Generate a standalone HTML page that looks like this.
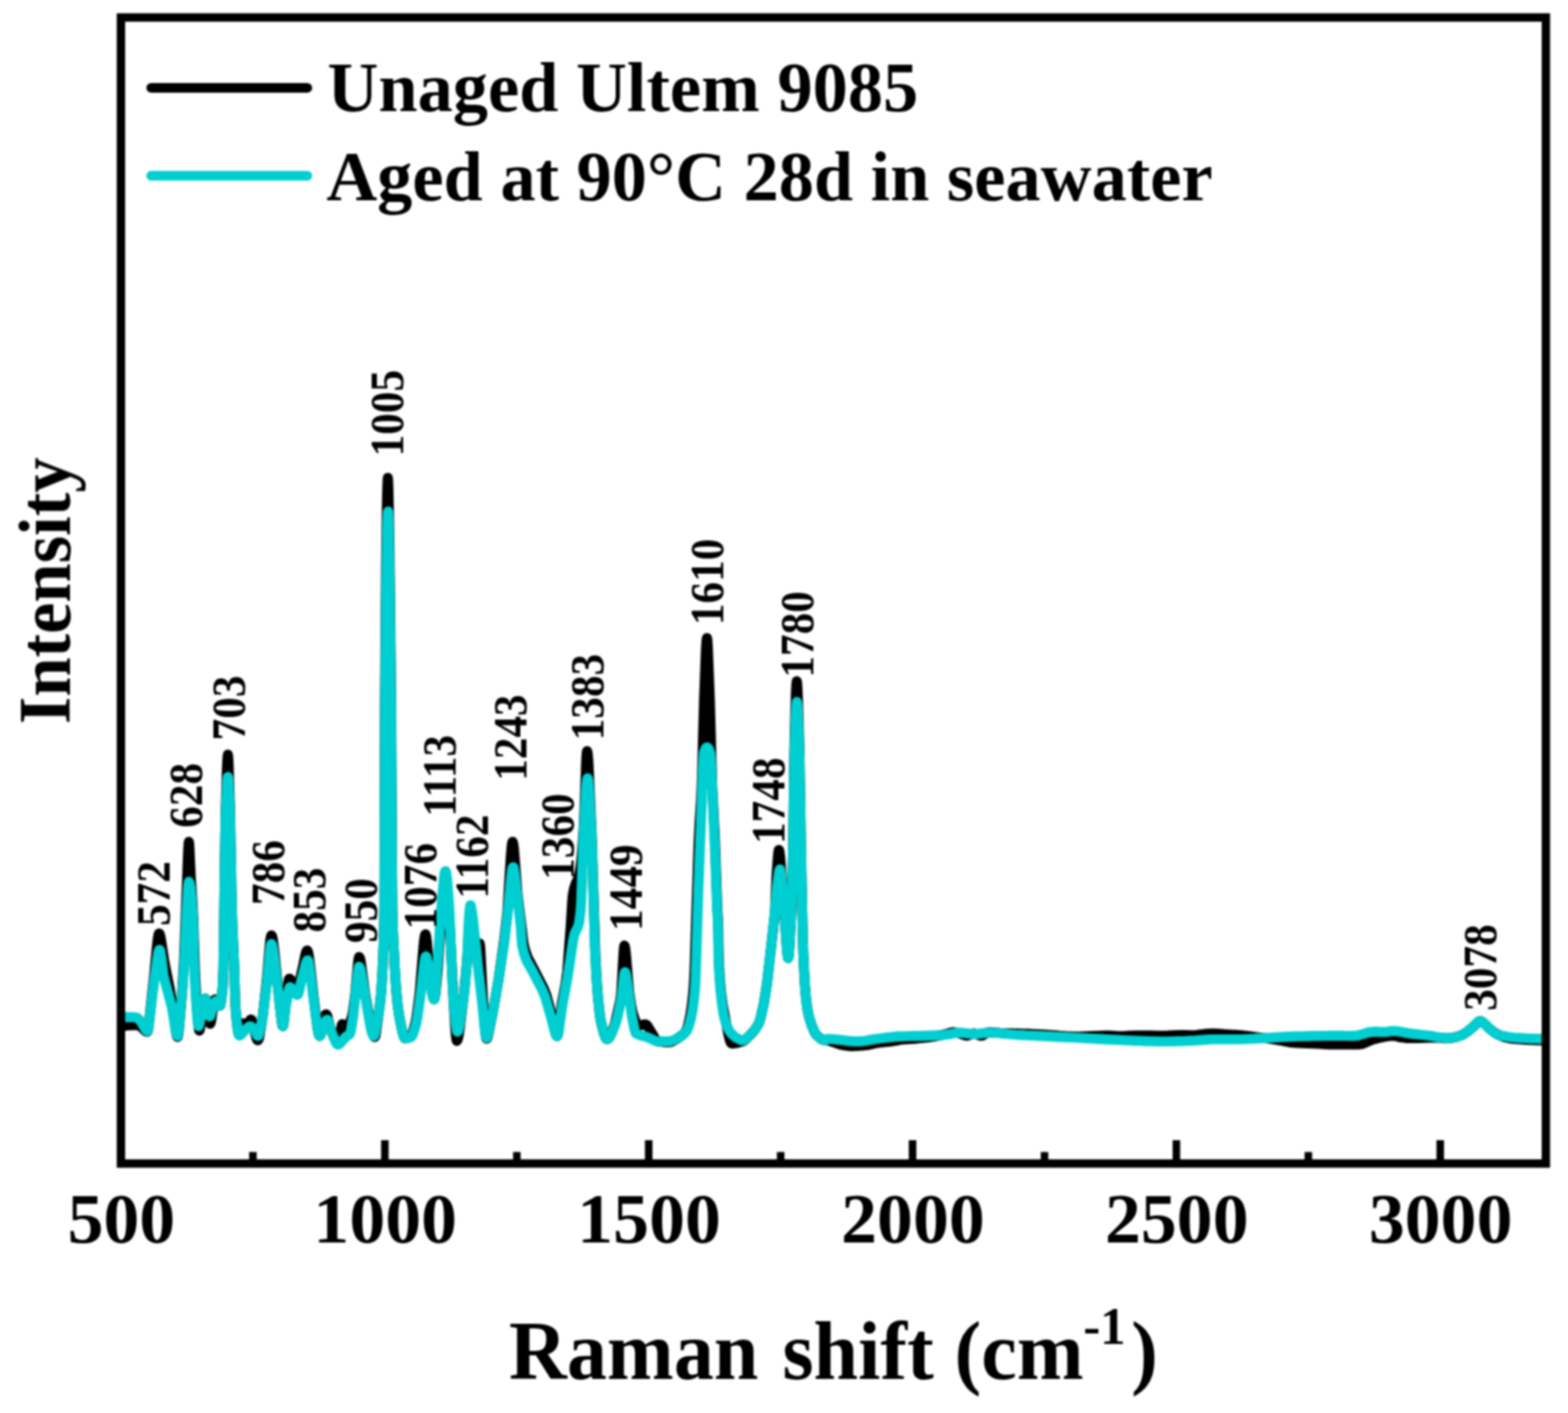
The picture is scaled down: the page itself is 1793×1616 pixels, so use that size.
<!DOCTYPE html>
<html lang="en">
<head>
<meta charset="utf-8">
<title>Raman spectra of Ultem 9085</title>
<style>
html,body{margin:0;padding:0;background:#fff;}
body{width:1793px;height:1616px;overflow:hidden;}
svg text{white-space:pre;}
</style>
</head>
<body>
<svg width="1793" height="1616" viewBox="0 0 1793 1616" style="display:block">
<rect x="0" y="0" width="1793" height="1616" fill="#fff"/>
<defs><filter id="soft" x="0" y="0" width="1793" height="1616" filterUnits="userSpaceOnUse" color-interpolation-filters="sRGB"><feGaussianBlur stdDeviation="0.8"/></filter></defs>
<g filter="url(#soft)">
<g fill="none" stroke-linejoin="round" stroke-linecap="butt">
<path d="M139.0 1174.0L145.0 1172.9L151.0 1172.5L157.0 1172.5L158.6 1172.6L159.8 1173.1L165.8 1178.8L167.4 1179.8L168.4 1180.0L168.6 1179.9L169.0 1178.9L169.4 1177.2L170.2 1171.7L176.2 1116.2L179.8 1078.3L180.6 1072.2L181.0 1070.0L181.4 1068.4L181.8 1067.6L182.0 1067.5L182.2 1067.6L182.6 1068.1L183.0 1069.2L183.8 1072.6L188.2 1101.0L194.2 1131.2L197.8 1152.9L201.0 1178.3L201.8 1183.0L202.2 1184.6L202.6 1185.6L203.0 1186.0L203.4 1185.4L203.8 1183.7L204.6 1177.6L208.2 1135.4L210.2 1102.7L215.0 975.9L215.4 968.0L215.8 963.3L216.0 962.7L216.2 963.4L216.6 968.6L218.2 1003.4L220.2 1033.5L221.0 1049.8L223.0 1111.6L224.6 1144.2L226.6 1170.3L227.0 1174.2L227.4 1177.0L227.8 1178.5L228.0 1178.7L228.2 1178.5L228.6 1177.3L229.4 1172.1L231.0 1158.2L233.4 1145.0L233.8 1143.5L234.2 1142.4L234.7 1141.9L235.0 1142.1L235.4 1143.1L236.2 1147.0L239.0 1166.9L239.4 1168.9L239.8 1170.2L240.2 1170.9L240.3 1170.9L240.6 1170.7L241.0 1169.7L241.8 1165.8L244.2 1148.7L245.0 1144.6L245.4 1143.4L245.8 1143.0L246.2 1143.1L247.0 1143.9L250.2 1149.4L251.0 1150.2L251.4 1150.3L251.8 1149.9L252.2 1148.7L253.0 1144.2L254.6 1128.8L255.0 1121.5L255.5 1106.8L257.4 962.4L258.2 920.6L259.4 880.8L259.8 871.4L260.2 865.2L260.6 863.0L261.0 865.6L261.4 872.8L263.0 924.3L265.0 1033.1L265.8 1059.5L267.9 1106.8L269.0 1147.4L269.8 1159.1L271.0 1171.5L271.8 1177.5L272.6 1181.6L273.0 1182.8L273.4 1183.5L273.7 1183.7L273.8 1183.7L274.2 1182.9L275.0 1179.1L276.2 1172.3L276.6 1170.8L277.0 1170.3L277.4 1170.4L278.2 1170.9L280.6 1173.3L281.5 1173.7L281.8 1173.6L282.2 1173.4L283.0 1172.3L285.8 1166.9L286.2 1166.3L286.6 1166.0L287.0 1165.9L287.4 1166.1L287.8 1166.6L288.6 1168.5L293.0 1186.6L293.8 1188.7L294.2 1189.4L294.6 1189.8L295.0 1189.7L295.4 1189.3L295.8 1188.4L296.6 1185.5L300.6 1161.0L305.0 1121.7L308.2 1082.9L309.0 1075.5L309.4 1072.8L309.8 1070.9L310.2 1069.8L310.4 1069.7L310.6 1069.8L311.0 1070.4L311.4 1071.6L312.2 1075.6L313.8 1088.3L319.8 1148.8L322.2 1169.0L322.6 1171.5L323.0 1173.1L323.4 1173.7L323.8 1173.0L324.2 1171.1L325.0 1164.6L326.6 1148.3L329.4 1124.7L329.8 1122.2L330.2 1120.3L330.6 1119.3L330.8 1119.2L331.4 1119.4L332.2 1120.1L333.8 1122.7L337.4 1130.1L338.2 1131.2L339.0 1131.9L339.5 1132.0L339.8 1131.9L340.2 1131.4L341.0 1129.5L346.6 1104.6L349.0 1092.5L349.8 1089.5L350.6 1087.6L351.0 1087.1L351.4 1087.0L351.8 1087.5L352.2 1088.6L353.0 1092.2L354.6 1104.1L358.6 1139.7L363.0 1175.4L363.8 1180.2L364.6 1183.4L365.0 1184.4L365.5 1184.8L365.8 1184.7L366.2 1184.2L367.0 1182.2L371.0 1164.1L371.8 1161.5L372.2 1160.6L372.6 1160.1L373.0 1160.0L373.4 1160.3L373.8 1160.9L374.6 1163.0L378.2 1177.7L383.0 1189.1L384.6 1191.7L385.4 1192.6L386.2 1193.0L386.6 1193.0L387.0 1192.4L387.4 1191.1L390.2 1174.9L390.6 1173.1L391.0 1171.8L391.4 1171.2L391.8 1171.3L392.2 1171.5L393.0 1172.5L395.0 1175.9L395.8 1176.8L396.4 1177.0L397.0 1176.7L397.8 1175.5L401.0 1167.3L402.6 1161.7L403.4 1158.0L406.2 1137.3L409.0 1104.6L409.8 1097.7L410.2 1095.5L410.6 1094.5L410.7 1094.5L411.0 1094.7L411.4 1095.3L411.8 1096.5L412.6 1100.1L417.4 1135.5L423.4 1169.9L425.4 1179.2L426.6 1183.2L427.4 1185.0L427.8 1185.5L428.2 1185.9L428.6 1186.0L429.0 1185.5L429.4 1184.0L430.2 1179.1L434.6 1147.4L435.8 1135.6L437.0 1117.9L438.6 1081.8L439.0 1068.9L439.5 1040.0L440.2 797.0L441.4 651.4L442.2 587.5L442.6 566.3L443.0 552.6L443.4 546.7L443.5 546.4L443.8 548.8L444.2 559.0L444.6 576.4L445.4 628.7L447.2 797.0L448.2 977.6L448.7 1040.0L449.4 1065.8L451.8 1114.1L453.0 1132.0L454.6 1148.6L456.2 1160.5L459.8 1178.6L461.4 1184.5L462.2 1186.4L462.6 1187.1L463.0 1187.5L463.4 1187.6L466.6 1187.0L469.0 1186.0L469.8 1185.3L470.6 1184.0L472.2 1180.0L475.0 1170.0L476.2 1163.9L479.8 1136.4L484.2 1082.2L485.0 1074.8L485.4 1072.0L485.8 1070.0L486.2 1068.8L486.5 1068.5L486.6 1068.5L487.0 1069.4L487.4 1071.3L488.2 1077.5L491.8 1119.6L494.2 1135.3L495.0 1139.3L495.4 1140.8L495.8 1141.8L496.2 1142.4L496.4 1142.5L496.6 1142.4L497.0 1141.4L497.4 1139.6L498.2 1133.8L500.6 1108.9L503.8 1058.4L506.6 1029.8L507.8 1020.7L508.6 1016.7L509.0 1015.5L509.5 1015.0L509.8 1015.3L510.2 1016.3L510.6 1018.2L511.4 1023.8L513.8 1050.0L514.6 1063.6L518.6 1143.8L520.6 1176.3L521.4 1185.6L521.8 1188.6L522.2 1190.2L522.4 1190.4L522.6 1190.3L523.0 1189.8L523.4 1188.9L524.2 1185.8L525.8 1175.8L531.0 1132.9L534.2 1097.2L535.8 1069.5L536.2 1065.0L537.0 1058.8L537.4 1056.5L537.8 1055.2L538.0 1055.0L538.2 1055.1L538.6 1055.7L539.4 1058.2L541.8 1068.7L543.8 1079.3L544.2 1080.7L544.6 1081.7L545.0 1082.0L545.4 1081.9L546.2 1081.2L547.8 1079.3L548.2 1079.1L548.5 1079.0L548.6 1079.1L549.0 1081.5L549.4 1086.5L552.2 1141.8L554.6 1176.0L555.4 1183.9L555.8 1186.5L556.2 1187.8L556.4 1188.0L556.6 1187.9L557.0 1187.5L557.4 1186.8L558.2 1184.2L564.2 1154.1L570.2 1119.4L576.5 1075.0L580.2 1042.8L584.2 977.5L585.0 968.1L585.4 965.0L585.8 963.1L586.1 962.7L586.2 962.7L586.6 963.6L587.0 965.4L587.8 971.6L591.8 1023.0L597.0 1064.4L598.2 1075.8L598.6 1078.8L600.6 1087.0L603.4 1094.9L609.4 1106.1L615.4 1117.9L621.4 1129.5L624.6 1137.3L631.0 1161.0L635.0 1180.5L635.8 1183.2L636.2 1184.2L636.6 1184.8L637.0 1185.0L637.4 1184.5L637.8 1183.3L638.6 1178.7L642.2 1148.8L647.0 1123.5L648.6 1111.7L652.6 1058.6L654.2 1031.9L654.6 1026.6L655.0 1023.0L656.2 1016.8L658.2 1010.5L660.6 1006.0L661.4 1003.7L662.6 998.6L664.2 988.5L665.4 976.3L667.4 947.3L668.2 928.8L670.2 872.2L670.6 864.7L671.0 860.1L671.3 859.0L671.4 859.1L671.8 860.4L672.2 863.3L673.0 873.4L676.6 954.0L680.7 1089.5L682.2 1119.5L683.8 1141.2L685.8 1159.8L687.0 1167.6L690.2 1180.7L691.8 1185.4L692.6 1187.1L693.4 1188.1L693.8 1188.4L694.2 1188.5L695.0 1188.3L695.8 1187.7L697.0 1186.1L699.4 1181.1L703.4 1170.2L709.0 1145.2L710.0 1139.0L710.6 1132.2L713.0 1089.1L713.4 1084.4L713.8 1081.8L714.0 1081.5L714.2 1081.6L714.6 1082.8L715.0 1084.8L715.8 1091.4L719.4 1134.2L721.8 1150.1L723.4 1157.9L726.6 1167.8L727.8 1170.7L728.6 1172.0L729.4 1172.8L730.2 1173.0L736.6 1171.6L738.2 1171.5L739.0 1171.9L740.2 1173.1L746.2 1182.8L749.8 1188.9L751.0 1190.3L751.8 1190.8L757.8 1191.7L764.2 1192.0L767.4 1191.6L773.8 1188.2L780.2 1183.8L783.0 1181.1L784.6 1178.8L785.4 1177.1L787.0 1171.8L789.4 1160.7L791.0 1150.4L792.6 1135.8L793.4 1125.0L794.2 1109.0L798.6 968.9L799.8 943.3L801.8 911.0L802.6 892.6L805.1 799.0L807.0 747.3L807.4 739.2L807.8 733.2L808.2 730.0L808.4 729.6L808.6 730.0L809.0 733.2L809.4 739.2L811.8 801.8L814.4 898.0L817.5 959.0L820.3 1040.0L821.0 1051.1L821.4 1062.6L821.8 1089.5L822.2 1102.1L823.0 1117.4L824.2 1131.9L826.2 1148.0L832.6 1182.0L834.2 1188.6L835.0 1191.0L835.8 1192.7L836.2 1193.2L836.8 1193.5L843.0 1192.8L849.0 1191.1L851.4 1189.9L857.4 1184.2L863.4 1177.4L866.6 1172.4L868.2 1169.1L869.8 1164.0L873.4 1147.9L877.0 1125.1L883.0 1072.1L885.4 1050.7L886.3 1040.0L888.0 1000.0L889.4 980.3L889.8 976.2L890.2 973.3L890.6 972.0L890.7 971.9L891.0 972.3L891.4 974.1L892.2 980.8L898.6 1068.2L899.8 1085.5L900.6 1093.5L901.0 1095.4L901.2 1095.7L901.4 1095.4L901.8 1093.5L902.2 1089.9L903.0 1078.8L904.6 1047.9L905.4 1027.6L906.6 983.1L907.1 959.0L908.3 860.0L909.4 813.8L910.2 789.7L910.6 782.5L911.0 779.1L911.1 779.0L911.4 780.1L911.8 784.7L912.6 802.8L914.2 860.0L916.2 986.5L918.2 1079.7L919.0 1101.9L920.6 1129.3L921.8 1143.3L923.0 1152.6L925.0 1162.6L928.2 1172.7L931.4 1180.2L933.4 1183.5L938.2 1187.7L941.4 1189.4L947.8 1190.2L954.2 1192.4L960.6 1194.6L967.0 1195.8L973.4 1196.5L979.8 1196.4L986.2 1195.9L992.6 1195.1L999.0 1193.7L1005.3 1192.5L1011.4 1191.9L1017.4 1191.3L1023.4 1190.4L1029.8 1189.1L1036.2 1188.5L1042.6 1188.2L1049.0 1187.7L1055.4 1187.0L1061.8 1186.3L1068.2 1185.4L1074.6 1184.2L1081.0 1182.9L1087.4 1180.9L1090.6 1180.5L1097.0 1181.9L1103.4 1184.1L1106.2 1184.5L1112.2 1182.3L1114.2 1182.0L1120.6 1184.3L1122.2 1184.5L1123.8 1184.1L1129.0 1180.9L1131.0 1180.5L1137.4 1180.9L1143.8 1181.4L1150.2 1181.7L1156.6 1181.8L1163.0 1182.0L1169.4 1182.1L1175.8 1182.3L1182.2 1182.6L1188.6 1182.9L1195.0 1183.3L1201.4 1183.7L1207.8 1184.2L1214.2 1184.8L1220.6 1185.2L1227.0 1185.5L1233.4 1185.5L1239.8 1185.2L1246.2 1185.0L1252.6 1184.7L1259.0 1184.4L1265.4 1184.2L1271.8 1184.5L1278.2 1185.0L1284.6 1184.9L1291.0 1184.5L1297.4 1184.2L1303.8 1184.2L1310.2 1184.3L1316.6 1184.3L1323.0 1184.4L1329.4 1184.4L1335.8 1184.3L1342.2 1183.9L1348.6 1183.6L1355.0 1183.7L1361.4 1183.9L1367.8 1183.7L1374.2 1183.0L1380.6 1182.2L1387.0 1181.9L1393.4 1182.3L1399.8 1182.8L1406.2 1183.1L1412.6 1183.4L1419.0 1183.9L1425.4 1184.7L1431.8 1185.5L1438.2 1186.3L1444.6 1187.1L1451.0 1187.9L1457.4 1188.8L1463.8 1190.0L1470.2 1191.2L1476.6 1192.3L1483.0 1192.8L1489.4 1193.1L1495.8 1193.3L1502.2 1193.5L1508.6 1193.7L1515.0 1194.2L1521.4 1194.5L1527.8 1194.6L1534.2 1194.6L1540.6 1194.6L1547.0 1194.6L1553.4 1194.6L1557.8 1193.9L1564.2 1191.2L1570.3 1188.8L1576.6 1187.2L1582.6 1185.9L1589.0 1184.9L1595.0 1184.8L1601.4 1186.4L1607.8 1187.2L1614.2 1187.2L1620.6 1187.2L1627.0 1187.1L1633.4 1186.7L1639.8 1186.5L1646.2 1186.9L1652.6 1187.5L1659.0 1187.3L1665.4 1185.9L1671.6 1183.9L1677.8 1180.0L1683.8 1175.1L1689.8 1169.2L1691.4 1168.2L1693.0 1167.9L1694.2 1168.2L1696.2 1169.5L1702.6 1175.8L1708.6 1180.7L1714.6 1184.0L1721.0 1186.4L1727.4 1187.8L1733.8 1188.4L1740.2 1188.9L1746.6 1189.3L1753.0 1189.5L1759.4 1189.7L1764.0 1189.7" stroke="#000" stroke-width="11.4"/>
<path d="M139.0 1163.1L145.0 1163.2L151.0 1163.3L155.8 1163.6L157.0 1164.1L161.4 1168.5L166.2 1177.3L167.0 1178.4L167.8 1179.0L168.4 1179.2L168.6 1179.1L169.0 1178.3L169.4 1176.9L170.2 1172.4L176.2 1122.5L180.2 1093.5L181.0 1089.4L181.4 1087.9L181.8 1086.8L182.2 1086.3L182.4 1086.2L182.6 1086.3L183.0 1087.2L183.4 1088.7L184.2 1093.6L186.6 1113.1L187.4 1118.0L193.4 1140.2L196.6 1152.4L201.0 1179.4L201.8 1182.7L202.2 1183.8L202.6 1184.5L203.0 1184.8L203.4 1184.2L203.8 1182.5L204.6 1176.5L209.0 1127.1L210.6 1103.3L213.4 1041.6L215.0 1015.4L215.4 1011.2L215.8 1008.8L216.0 1008.5L216.2 1008.6L216.6 1009.3L217.0 1010.6L217.8 1015.0L219.0 1025.8L220.6 1046.8L221.0 1058.9L221.8 1093.3L222.2 1106.8L223.4 1132.8L225.4 1162.1L226.2 1170.7L226.6 1173.1L226.9 1173.7L227.4 1173.1L227.8 1172.0L229.0 1166.1L230.6 1156.8L233.4 1144.4L233.8 1143.2L234.2 1142.3L234.7 1141.9L235.0 1142.1L235.4 1143.0L236.2 1146.3L238.2 1158.1L239.0 1161.4L239.4 1162.3L239.8 1162.5L240.2 1162.1L240.6 1161.4L241.8 1157.6L243.4 1151.6L245.8 1145.9L246.2 1145.3L246.6 1144.9L247.0 1144.7L247.4 1144.8L248.2 1145.7L250.2 1149.3L251.0 1150.2L251.4 1150.3L251.8 1149.9L252.2 1148.7L253.0 1144.2L254.6 1128.8L255.0 1121.5L255.5 1106.8L257.4 967.1L257.8 943.8L258.3 924.3L259.4 900.0L259.8 893.8L260.2 889.8L260.6 888.4L261.0 890.1L261.4 894.7L262.8 924.3L263.4 946.7L265.0 1033.6L265.8 1059.2L267.9 1106.8L269.0 1147.3L269.8 1159.1L271.0 1171.8L271.8 1177.9L272.6 1182.1L273.0 1183.3L273.4 1184.0L273.8 1184.2L274.6 1184.0L275.8 1183.2L281.8 1176.7L284.2 1174.4L285.4 1173.8L286.2 1173.7L287.4 1174.2L290.6 1177.2L291.8 1179.5L293.4 1183.2L294.2 1184.5L294.6 1184.8L295.0 1184.8L295.4 1184.4L295.8 1183.7L296.6 1181.4L300.2 1163.9L305.4 1122.1L308.6 1088.2L309.4 1082.5L309.8 1080.7L310.2 1079.7L310.4 1079.6L310.6 1079.7L311.0 1080.3L311.4 1081.4L312.2 1085.0L313.8 1096.5L319.8 1149.4L322.2 1168.9L322.6 1171.4L323.0 1173.1L323.4 1173.7L323.8 1173.1L324.2 1171.5L326.6 1152.5L329.8 1133.6L330.6 1130.5L331.0 1129.5L331.5 1129.1L332.2 1129.3L333.0 1129.8L338.2 1136.7L339.0 1137.4L339.8 1137.8L340.2 1137.8L340.6 1137.4L341.0 1136.7L341.8 1134.2L344.6 1121.5L349.4 1102.8L350.2 1100.4L351.0 1098.9L351.4 1098.4L351.9 1098.2L352.2 1098.4L352.6 1099.2L353.0 1100.6L353.8 1104.8L359.8 1151.6L362.6 1173.6L363.8 1180.6L364.6 1183.5L365.0 1184.4L365.5 1184.8L365.8 1184.7L366.2 1184.1L367.0 1182.1L369.4 1173.5L372.2 1168.0L373.0 1166.9L373.8 1166.3L374.2 1166.2L374.6 1166.4L375.0 1167.0L375.8 1168.9L378.6 1178.9L383.4 1191.0L384.6 1193.2L385.4 1194.2L386.2 1194.7L387.0 1194.6L388.2 1194.1L394.2 1187.0L395.8 1185.5L398.6 1183.9L400.2 1182.1L400.6 1181.2L401.4 1178.0L403.8 1162.8L409.0 1113.3L409.8 1108.0L410.2 1106.4L410.6 1105.6L411.0 1105.7L411.4 1106.3L412.2 1108.5L413.4 1114.1L419.4 1149.3L423.8 1175.0L425.0 1180.1L425.8 1182.6L426.6 1184.2L427.0 1184.7L427.4 1184.8L427.8 1184.6L428.2 1183.8L429.0 1181.3L433.4 1156.6L435.0 1144.0L436.2 1130.5L437.4 1110.3L438.6 1081.5L439.0 1068.1L439.5 1040.0L439.8 975.0L440.4 797.0L441.4 693.3L442.2 632.9L442.6 611.2L443.0 595.8L443.4 587.0L443.7 585.0L443.8 585.3L444.2 592.2L444.6 607.2L445.4 656.6L447.0 797.0L448.2 987.3L448.7 1040.0L449.4 1065.3L451.8 1114.1L453.0 1132.0L454.6 1148.6L456.2 1160.5L459.8 1178.6L461.4 1184.5L462.2 1186.4L462.6 1187.1L463.0 1187.5L463.4 1187.6L467.8 1186.9L470.2 1185.9L471.0 1185.0L472.2 1182.7L475.0 1173.8L476.2 1169.2L477.4 1162.7L481.4 1133.7L485.0 1102.1L485.8 1097.2L486.2 1095.5L486.6 1094.3L487.1 1093.8L487.4 1094.1L487.8 1095.1L488.6 1099.2L491.4 1121.4L494.6 1138.8L495.4 1141.8L495.8 1142.7L496.2 1143.2L496.4 1143.3L496.6 1143.1L497.0 1141.7L497.4 1139.1L498.2 1131.1L501.8 1081.0L504.2 1043.6L507.4 1006.6L508.2 1000.2L508.6 998.0L509.0 996.6L509.4 996.1L509.8 996.6L510.2 998.1L511.0 1003.7L512.6 1022.5L513.8 1040.0L514.6 1057.5L517.4 1124.3L519.8 1157.6L521.0 1170.1L521.8 1176.1L522.2 1178.2L522.6 1179.5L523.0 1179.9L523.4 1179.7L523.8 1179.1L524.6 1176.8L525.8 1171.1L530.2 1141.3L532.2 1122.8L534.2 1096.6L535.8 1056.8L536.2 1050.0L537.0 1040.4L537.4 1036.9L537.8 1035.2L537.9 1035.1L538.2 1035.4L538.6 1036.7L540.6 1049.1L546.6 1106.4L551.4 1147.4L554.2 1176.2L555.0 1182.2L555.4 1184.4L555.8 1186.0L556.2 1186.8L556.4 1186.9L556.6 1186.8L557.0 1186.5L557.4 1185.7L558.2 1183.4L564.2 1154.1L570.2 1119.2L576.6 1078.0L581.0 1040.4L584.6 1002.5L585.4 996.5L585.8 994.3L586.2 992.7L586.6 991.9L586.8 991.8L587.0 991.9L587.4 992.7L587.8 994.3L588.6 999.1L594.6 1051.0L595.5 1060.0L596.6 1077.1L597.0 1081.0L599.4 1091.2L601.8 1098.2L607.8 1108.7L613.8 1120.2L620.2 1132.4L623.4 1140.1L629.8 1162.3L634.6 1180.8L635.4 1183.0L636.2 1184.5L636.6 1184.9L637.0 1185.0L637.4 1184.7L637.8 1183.8L638.6 1180.6L643.0 1150.0L649.0 1117.7L655.4 1075.1L656.6 1069.4L657.4 1066.8L660.6 1060.6L661.5 1058.0L662.2 1054.8L663.0 1049.4L664.0 1040.0L664.6 1029.9L667.0 960.0L669.8 908.1L670.6 897.6L671.0 893.8L671.4 891.2L671.8 890.1L671.9 890.0L672.2 890.4L672.6 892.3L673.0 895.4L673.8 905.1L676.2 949.0L677.0 969.8L680.2 1081.6L681.4 1107.8L683.0 1132.1L685.4 1156.4L686.6 1165.2L689.8 1179.3L691.4 1184.4L692.6 1187.1L693.4 1188.1L693.8 1188.4L694.2 1188.5L695.0 1188.3L695.8 1187.8L697.0 1186.4L699.4 1182.1L703.8 1171.2L706.2 1162.7L709.8 1146.0L711.0 1139.0L713.4 1117.2L713.8 1114.4L714.2 1112.5L714.6 1111.8L715.0 1112.1L715.4 1113.0L716.2 1116.4L720.6 1147.2L722.6 1162.7L725.4 1176.6L726.2 1179.5L727.0 1181.6L727.6 1182.3L733.0 1184.4L739.0 1185.7L745.0 1188.4L749.8 1190.6L755.8 1191.0L762.2 1191.0L767.0 1190.7L773.0 1188.3L779.0 1184.9L782.6 1182.0L785.5 1178.5L786.6 1176.4L788.2 1171.9L790.6 1162.5L792.2 1153.7L794.2 1136.9L795.0 1125.8L795.6 1114.0L798.6 1017.5L803.8 878.9L804.6 864.8L805.0 860.9L805.4 859.4L806.6 856.5L807.4 855.3L807.8 854.9L808.2 854.7L808.6 854.6L809.0 854.8L809.8 855.6L811.0 857.9L811.8 860.0L812.2 862.0L812.6 865.6L813.4 876.8L817.4 968.8L820.0 1040.0L820.6 1049.4L821.0 1058.0L821.5 1089.5L822.2 1108.8L823.4 1127.5L825.4 1146.7L827.0 1157.9L828.2 1163.8L831.0 1173.0L833.0 1177.6L835.8 1181.6L840.6 1185.9L846.6 1189.2L848.6 1189.8L850.2 1189.7L852.2 1188.8L858.2 1183.2L863.4 1177.5L866.6 1172.4L868.2 1169.1L869.8 1164.0L873.4 1147.9L877.0 1125.1L883.0 1072.1L886.6 1036.7L888.6 1013.4L890.6 998.5L891.0 996.4L891.4 994.9L891.8 994.2L891.9 994.2L892.2 994.6L892.6 996.3L893.4 1002.6L895.8 1029.5L899.8 1085.4L900.6 1093.5L901.0 1095.4L901.2 1095.7L901.4 1095.4L901.8 1093.5L902.2 1089.9L903.0 1078.8L904.6 1047.9L905.4 1026.9L906.6 982.0L907.1 959.0L908.2 875.7L908.6 856.6L909.8 820.8L910.2 812.4L910.6 806.3L911.0 803.1L911.2 802.7L911.4 803.1L911.8 806.3L912.2 812.2L913.0 830.3L914.2 867.6L917.4 1044.6L918.2 1079.7L919.0 1101.9L920.6 1129.3L921.8 1143.3L923.0 1152.6L925.0 1162.6L928.2 1172.7L931.4 1180.2L933.4 1183.5L938.6 1188.1L941.4 1189.5L943.4 1189.8L944.2 1189.5L946.2 1188.3L952.2 1188.4L958.2 1189.0L964.2 1189.7L970.2 1190.5L976.6 1191.0L983.0 1191.0L989.4 1190.3L995.8 1189.2L1002.2 1188.1L1008.6 1187.3L1015.0 1186.5L1021.4 1185.8L1027.8 1185.3L1034.2 1185.1L1040.6 1184.9L1047.0 1184.8L1053.4 1184.7L1059.8 1184.5L1066.2 1184.3L1072.6 1184.0L1079.0 1183.6L1085.4 1182.8L1091.8 1181.5L1098.2 1181.0L1104.6 1181.7L1111.0 1182.6L1117.4 1182.5L1123.8 1181.6L1130.2 1181.0L1136.6 1181.1L1143.0 1181.6L1149.4 1182.2L1155.8 1182.8L1162.2 1183.4L1168.6 1183.8L1175.0 1184.1L1181.4 1184.4L1187.8 1184.7L1194.2 1185.0L1200.6 1185.3L1207.0 1185.7L1213.4 1186.0L1219.8 1186.3L1226.2 1186.6L1232.6 1186.9L1239.0 1187.3L1245.4 1187.6L1251.8 1188.0L1258.2 1188.3L1264.6 1188.7L1271.0 1189.0L1277.4 1189.3L1283.8 1189.6L1290.2 1189.9L1296.6 1190.2L1303.0 1190.4L1309.4 1190.7L1315.8 1190.9L1322.2 1191.0L1328.6 1191.1L1335.0 1191.1L1341.4 1191.0L1347.8 1190.8L1354.2 1190.6L1360.6 1190.3L1367.0 1190.0L1373.4 1189.5L1379.8 1189.0L1386.2 1188.6L1392.6 1188.6L1399.0 1188.6L1405.4 1188.6L1411.8 1188.6L1418.2 1188.6L1424.6 1188.4L1431.0 1188.1L1437.4 1187.8L1443.8 1187.4L1450.2 1187.0L1456.6 1186.5L1463.0 1186.1L1469.4 1185.8L1475.8 1185.5L1482.2 1185.3L1488.6 1185.1L1495.0 1185.0L1501.4 1184.8L1507.8 1184.7L1514.2 1184.6L1520.6 1184.5L1527.0 1184.5L1533.4 1184.5L1539.8 1184.6L1546.2 1184.7L1552.6 1184.3L1559.0 1182.5L1565.4 1180.5L1571.8 1179.8L1578.2 1180.3L1584.6 1180.3L1591.0 1179.2L1597.4 1179.3L1603.8 1180.3L1610.2 1181.6L1616.6 1182.5L1623.0 1183.2L1629.4 1183.8L1635.8 1184.6L1642.2 1185.8L1648.6 1186.7L1655.0 1187.2L1661.4 1186.6L1667.8 1185.1L1673.4 1183.1L1679.8 1178.4L1686.2 1172.7L1689.8 1169.2L1691.4 1168.2L1693.0 1167.9L1694.2 1168.2L1696.2 1169.5L1702.6 1175.8L1708.6 1180.9L1711.8 1182.9L1718.2 1184.7L1724.6 1185.9L1731.0 1186.6L1737.4 1187.0L1743.8 1187.4L1750.2 1187.7L1756.6 1187.9L1763.0 1188.0L1764.0 1188.0" stroke="#00CED0" stroke-width="11.4"/>
</g>
<rect x="138.3" y="20.0" width="1629.4" height="1310.7" fill="none" stroke="#000" stroke-width="9.6"/>
<g fill="#000"><rect x="435.8" y="1304" width="8.6" height="24" /><rect x="737.5" y="1304" width="8.6" height="24" /><rect x="1039.2" y="1304" width="8.6" height="24" /><rect x="1340.9" y="1304" width="8.6" height="24" /><rect x="1642.6" y="1304" width="8.6" height="24" /><rect x="284.9" y="1317.5" width="8.6" height="10" /><rect x="586.7" y="1317.5" width="8.6" height="10" /><rect x="888.4" y="1317.5" width="8.6" height="10" /><rect x="1190.1" y="1317.5" width="8.6" height="10" /><rect x="1491.8" y="1317.5" width="8.6" height="10" /></g>
<g font-family="'Liberation Serif', 'Times New Roman', serif" font-weight="bold" fill="#000">
<text transform="translate(138.8 1421.1) scale(1.0095 1.0)" font-size="81.4" text-anchor="middle">500</text>
<text transform="translate(440.5 1421.1) scale(1.0095 1.0)" font-size="81.4" text-anchor="middle">1000</text>
<text transform="translate(742.2 1421.1) scale(1.0095 1.0)" font-size="81.4" text-anchor="middle">1500</text>
<text transform="translate(1043.9 1421.1) scale(1.0095 1.0)" font-size="81.4" text-anchor="middle">2000</text>
<text transform="translate(1345.6 1421.1) scale(1.0095 1.0)" font-size="81.4" text-anchor="middle">2500</text>
<text transform="translate(1647.3 1421.1) scale(1.0095 1.0)" font-size="81.4" text-anchor="middle">3000</text>
<text transform="translate(582 1576.7) scale(0.955 1.0)" font-size="96">Raman<tspan dx="4.7"> shift</tspan><tspan dx="0.8"> (cm</tspan><tspan x="687.6" y="-39.8" font-size="61">-1</tspan><tspan x="745.0" y="0">)</tspan></text>
<text transform="translate(80 828.2) rotate(-90) scale(0.95 1.0)" font-size="85">Intensity</text>
<text transform="translate(374.6 126.7) scale(1.0066 1.0)" font-size="80">Unaged Ultem 9085</text>
<text transform="translate(373.2 228.5) scale(1.006 1.0)" font-size="80">Aged at 90°C 28d in seawater</text>
<text transform="translate(193.5 1059) rotate(-90) scale(0.908 1.0)" font-size="54.5">572</text>
<text transform="translate(230.6 946.8) rotate(-90) scale(0.908 1.0)" font-size="54.5">628</text>
<text transform="translate(280.3 846.8) rotate(-90) scale(0.908 1.0)" font-size="54.5">703</text>
<text transform="translate(325.2 1035) rotate(-90) scale(0.908 1.0)" font-size="54.5">786</text>
<text transform="translate(371.6 1066.5) rotate(-90) scale(0.908 1.0)" font-size="54.5">853</text>
<text transform="translate(431 1078.6) rotate(-90) scale(0.908 1.0)" font-size="54.5">950</text>
<text transform="translate(460.8 522) rotate(-90) scale(0.908 1.0)" font-size="54.5">1005</text>
<text transform="translate(499 1063) rotate(-90) scale(0.908 1.0)" font-size="54.5">1076</text>
<text transform="translate(521.3 934) rotate(-90) scale(0.908 1.0)" font-size="54.5">1113</text>
<text transform="translate(558.4 1027.7) rotate(-90) scale(0.908 1.0)" font-size="54.5">1162</text>
<text transform="translate(602 893.1) rotate(-90) scale(0.908 1.0)" font-size="54.5">1243</text>
<text transform="translate(655.9 1006.3) rotate(-90) scale(0.908 1.0)" font-size="54.5">1360</text>
<text transform="translate(690.2 846.7) rotate(-90) scale(0.908 1.0)" font-size="54.5">1383</text>
<text transform="translate(733.8 1064.8) rotate(-90) scale(0.908 1.0)" font-size="54.5">1449</text>
<text transform="translate(827.1 714.9) rotate(-90) scale(0.908 1.0)" font-size="54.5">1610</text>
<text transform="translate(896.8 965.3) rotate(-90) scale(0.908 1.0)" font-size="54.5">1748</text>
<text transform="translate(929.8 774.9) rotate(-90) scale(0.908 1.0)" font-size="54.5">1780</text>
<text transform="translate(1711.2 1156) rotate(-90) scale(0.908 1.0)" font-size="54.5">3078</text>
</g>
<line x1="172.9" y1="100.4" x2="351.4" y2="100.4" stroke="#000" stroke-width="11" stroke-linecap="round"/>
<line x1="172.9" y1="201.0" x2="351.4" y2="201.0" stroke="#00CED0" stroke-width="11" stroke-linecap="round"/>
</g>
</svg>
</body>
</html>
